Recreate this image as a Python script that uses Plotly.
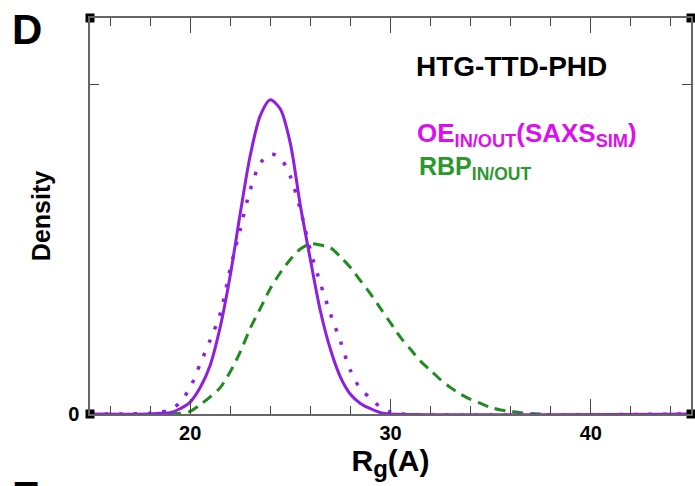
import plotly.graph_objects as go

# ---------------- data ----------------
rg_solid = [15, 18, 18.5, 19, 19.5, 20, 20.5, 21, 21.5, 22, 22.5, 23, 23.5, 24, 24.5,
            25, 25.5, 26, 26.5, 27, 27.5, 28, 28.5, 29, 29.5, 30, 45]
dens_solid = [0, 0, 0.0005, 0.001, 0.004, 0.009, 0.020, 0.037, 0.066, 0.105, 0.152, 0.196,
              0.226, 0.238, 0.231, 0.205, 0.158, 0.117, 0.078, 0.049, 0.028, 0.015, 0.008,
              0.004, 0.001, 0, 0]

rg_dot = [15, 18, 18.5, 19, 19.5, 20, 20.5, 21, 21.5, 22, 22.5, 23, 23.5, 24, 24.5,
          25, 25.5, 26, 26.5, 27, 27.5, 28, 28.5, 29, 29.5, 30, 30.5, 45]
dens_dot = [0, 0.0005, 0.0015, 0.003, 0.009, 0.020, 0.038, 0.056, 0.076, 0.110, 0.140,
            0.170, 0.190, 0.197, 0.194, 0.180, 0.155, 0.124, 0.099, 0.076, 0.055, 0.033,
            0.019, 0.012, 0.005, 0.0015, 0, 0]

rg_dash = [19, 19.5, 20, 20.5, 21, 21.5, 22, 22.5, 23, 23.5, 24, 24.5, 25, 25.5, 26, 26.5,
           27, 27.5, 28, 28.5, 29, 29.5, 30, 30.5, 31, 31.5, 32, 32.5, 33, 33.5, 34, 34.5,
           35, 35.5, 36, 36.5, 37, 37.5]
dens_dash = [0, 0.0005, 0.002, 0.007, 0.013, 0.020, 0.032, 0.047, 0.065, 0.080, 0.095,
             0.107, 0.117, 0.125, 0.129, 0.128, 0.126, 0.119, 0.111, 0.101, 0.091, 0.080,
             0.069, 0.058, 0.049, 0.040, 0.033, 0.026, 0.020, 0.015, 0.011, 0.008, 0.005,
             0.003, 0.002, 0.001, 0.0003, 0]

x_range = [15, 45]
y_range = [0, 0.3]
x_major = [20, 30, 40]
x_minor_step = 2
y_ticks = [0, 0.25]
y_ticktext = ["0", ""]

title_text = "HTG-TTD-PHD"
legend1 = "OE<sub>IN/OUT</sub>(SAXS<sub>SIM</sub>)"
legend2 = "RBP<sub>IN/OUT</sub>"
x_title = "R<sub><span style='font-size:24px'>g</span></sub>(A)"
y_title = "Density"

# ---------------- style ----------------
W, H = 695, 486
ML, MR, MT, MB = 90, 2, 18, 72
PW, PH = W - ML - MR, H - MT - MB
PURPLE = "#8f1fe0"
MAGENTA = "#dc10ee"
GREEN = "#1f8c1f"
GREEN_TXT = "#2b982b"
FONT = "Liberation Sans, Arial, sans-serif"


def px_x(px):
    return (px - ML) / PW


def px_y(py):
    return (H - MB - py) / PH


fig = go.Figure()
fig.add_trace(go.Scatter(x=rg_dash, y=dens_dash, mode="lines", hoverinfo="skip",
                         line=dict(color=GREEN, width=3, dash="11px,7px",
                                   shape="spline", smoothing=0.8)))
fig.add_trace(go.Scatter(x=rg_solid, y=dens_solid, mode="lines", hoverinfo="skip",
                         line=dict(color=PURPLE, width=3, shape="spline", smoothing=0.8)))
fig.add_trace(go.Scatter(x=rg_dot, y=dens_dot, mode="lines", hoverinfo="skip",
                         line=dict(color=PURPLE, width=3.5, dash="3.5px,11px",
                                   shape="spline", smoothing=0.8)))
# corner markers at the axis-range corners
fig.add_trace(go.Scatter(x=[x_range[0], x_range[1], x_range[0], x_range[1]],
                         y=[y_range[0], y_range[0], y_range[1], y_range[1]],
                         mode="markers", cliponaxis=False, hoverinfo="skip",
                         marker=dict(symbol="square", size=9, color="black")))

axis_common = dict(showgrid=False, zeroline=False, showline=True, linecolor="#666666",
                   linewidth=1.5, mirror="ticks", ticks="inside", tickcolor="#444444",
                   tickwidth=1.3,
                   tickfont=dict(family=FONT, size=20, color="black", weight="bold"))

fig.update_xaxes(range=x_range, tickmode="array", tickvals=x_major, ticklen=15,
                 minor=dict(dtick=x_minor_step, tick0=0, ticks="inside", ticklen=8,
                            tickcolor="#444444", tickwidth=1.3),
                 title=dict(text=x_title, standoff=4,
                            font=dict(family=FONT, size=30, color="black", weight="bold")),
                 **axis_common)
fig.update_yaxes(range=y_range, tickmode="array", tickvals=y_ticks, ticktext=y_ticktext,
                 ticklen=9, ticklabelstandoff=5,
                 title=dict(text=y_title, standoff=10,
                            font=dict(family=FONT, size=25, color="black", weight="bold")),
                 **axis_common)

annotations = [
    dict(text="D", x=px_x(10), y=px_y(30), xanchor="left", yanchor="middle",
         font=dict(family=FONT, size=42, color="black", weight="bold")),
    dict(text="E", x=px_x(10), y=px_y(471), xanchor="left", yanchor="top",
         font=dict(family=FONT, size=42, color="black", weight="bold")),
    dict(text=title_text, x=px_x(513), y=px_y(66), xanchor="center", yanchor="middle",
         font=dict(family=FONT, size=28, color="black", weight="bold")),
    dict(text=legend1, x=px_x(416), y=px_y(134), xanchor="left", yanchor="middle",
         font=dict(family=FONT, size=26, color=MAGENTA, weight="bold")),
    dict(text=legend2, x=px_x(418), y=px_y(168), xanchor="left", yanchor="middle",
         font=dict(family=FONT, size=25, color=GREEN_TXT, weight="bold")),
]
for a in annotations:
    a.update(xref="paper", yref="paper", showarrow=False)

fig.update_layout(width=W, height=H, margin=dict(l=ML, r=MR, t=MT, b=MB),
                  paper_bgcolor="white", plot_bgcolor="white", showlegend=False,
                  annotations=annotations)

fig.write_html("out.html")
